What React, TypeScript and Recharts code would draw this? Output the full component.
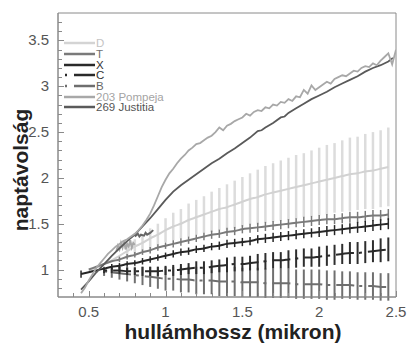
import { LineChart, Line, XAxis, YAxis, ErrorBar, Legend, Label, ReferenceArea } from 'recharts'

const FONT = '"Liberation Sans", Arial, Helvetica, sans-serif'

// wavelength grid of the model curves (micron)
const modelX = [
  0.45, 0.5, 0.55, 0.6, 0.65, 0.7, 0.75, 0.8, 0.85, 0.9, 0.95, 1.0, 1.05, 1.1, 1.15, 1.2, 1.25, 1.3, 1.35, 1.4, 1.45,
  1.5, 1.55, 1.6, 1.65, 1.7, 1.75, 1.8, 1.85, 1.9, 1.95, 2.0, 2.05, 2.1, 2.15, 2.2, 2.25, 2.3, 2.35, 2.4, 2.45,
]

const dMean = [
  null, 0.98, 1.02, 1.06, 1.1, 1.15, 1.2, 1.25, 1.29, 1.34, 1.38, 1.43, 1.47, 1.5, 1.54, 1.57, 1.6, 1.63, 1.66, 1.68,
  1.71, 1.74, 1.77, 1.79, 1.82, 1.84, 1.86, 1.88, 1.9, 1.92, 1.94, 1.96, 1.98, 2.0, 2.02, 2.04, 2.05, 2.07, 2.08,
  2.1, 2.12,
]
const dErr = [
  null, null, null, null, null, null, 0.06, 0.08, 0.09, 0.11, 0.12, 0.13, 0.15, 0.16, 0.18, 0.19, 0.2, 0.22, 0.23,
  0.25, 0.26, 0.27, 0.28, 0.3, 0.31, 0.32, 0.33, 0.34, 0.35, 0.35, 0.36, 0.37, 0.38, 0.38, 0.39, 0.4, 0.4, 0.41, 0.42,
  0.42, 0.43,
]

const tMean = [
  null, 1.0, 1.03, 1.06, 1.09, 1.11, 1.14, 1.16, 1.19, 1.21, 1.24, 1.26, 1.28, 1.3, 1.32, 1.34, 1.36, 1.38, 1.39,
  1.41, 1.42, 1.44, 1.45, 1.46, 1.47, 1.48, 1.49, 1.5, 1.51, 1.52, 1.53, 1.54, 1.55, 1.55, 1.56, 1.57, 1.57, 1.58,
  1.59, 1.59, 1.6,
]
const tErr = [
  null, null, null, null, null, 0.03, 0.03, 0.03, 0.03, 0.035, 0.035, 0.035, 0.04, 0.04, 0.04, 0.04, 0.04, 0.045,
  0.045, 0.045, 0.045, 0.045, 0.05, 0.05, 0.05, 0.05, 0.05, 0.05, 0.05, 0.055, 0.055, 0.055, 0.055, 0.055, 0.055,
  0.06, 0.06, 0.06, 0.06, 0.06, 0.06,
]

const xMean = [
  0.95, 0.97, 0.99, 1.01, 1.03, 1.04, 1.06, 1.07, 1.09, 1.11, 1.13, 1.15, 1.17, 1.19, 1.2, 1.22, 1.23, 1.25, 1.26,
  1.28, 1.29, 1.3, 1.31, 1.33, 1.34, 1.35, 1.36, 1.37, 1.38, 1.39, 1.4, 1.41, 1.42, 1.43, 1.44, 1.45, 1.46, 1.47,
  1.48, 1.49, 1.5,
]
const xErr = [
  0.04, null, null, null, 0.03, 0.03, 0.03, 0.03, 0.035, 0.035, 0.035, 0.035, 0.04, 0.04, 0.04, 0.04, 0.04, 0.04,
  0.045, 0.045, 0.045, 0.045, 0.045, 0.045, 0.05, 0.05, 0.05, 0.05, 0.05, 0.05, 0.05, 0.055, 0.055, 0.055, 0.055,
  0.055, 0.06, 0.06, 0.06, 0.06, 0.06,
]

const cMean = [
  null, null, null, 0.99, 0.99, 0.99, 0.98, 0.98, 0.98, 0.98, 0.98, 0.99, 0.99, 1.0, 1.01, 1.02, 1.02, 1.03, 1.04,
  1.05, 1.06, 1.06, 1.07, 1.08, 1.09, 1.1, 1.1, 1.11, 1.12, 1.13, 1.13, 1.14, 1.15, 1.16, 1.17, 1.18, 1.18, 1.19,
  1.2, 1.21, 1.22,
]
const cErr = [
  null, null, null, 0.03, 0.03, 0.04, 0.04, 0.04, 0.05, 0.05, 0.05, 0.05, 0.06, 0.06, 0.06, 0.07, 0.07, 0.07, 0.07,
  0.08, 0.08, 0.08, 0.08, 0.09, 0.09, 0.09, 0.09, 0.1, 0.1, 0.1, 0.1, 0.11, 0.11, 0.11, 0.11, 0.12, 0.12, 0.12, 0.12,
  0.13, 0.13,
]

const bMean = [
  null, null, null, 0.98, 0.97, 0.96, 0.95, 0.94, 0.93, 0.92, 0.91, 0.9, 0.9, 0.89, 0.89, 0.88, 0.88, 0.88, 0.87,
  0.87, 0.87, 0.86, 0.86, 0.86, 0.85, 0.85, 0.85, 0.85, 0.84, 0.84, 0.84, 0.84, 0.83, 0.83, 0.83, 0.83, 0.82, 0.82,
  0.82, 0.81, 0.81,
]
const bErr = [
  null, null, null, 0.05, 0.06, 0.07, 0.08, 0.09, 0.1, 0.11, 0.12, 0.13, 0.13, 0.14, 0.14, 0.15, 0.15, 0.15, 0.16,
  0.16, 0.16, 0.16, 0.16, 0.16, 0.16, 0.16, 0.16, 0.16, 0.16, 0.16, 0.16, 0.16, 0.16, 0.16, 0.15, 0.15, 0.15, 0.15,
  0.15, 0.15, 0.15,
]

// measured spectra [wavelength, reflectance]
const pompeja = [
  [0.45, 0.74], [0.475, 0.8], [0.5, 0.88], [0.525, 0.95], [0.55, 1.02], [0.575, 1.07], [0.6, 1.12], [0.625, 1.17],
  [0.65, 1.21], [0.675, 1.25], [0.7, 1.28], [0.725, 1.31], [0.75, 1.33], [0.775, 1.36], [0.8, 1.39], [0.825, 1.43],
  [0.85, 1.48], [0.875, 1.54], [0.9, 1.61], [0.925, 1.7], [0.95, 1.8], [0.975, 1.9], [1.0, 1.98], [1.025, 2.05],
  [1.05, 2.1], [1.075, 2.16], [1.1, 2.21], [1.125, 2.25], [1.15, 2.3], [1.175, 2.33], [1.2, 2.37], [1.225, 2.38],
  [1.25, 2.41], [1.275, 2.44], [1.3, 2.46], [1.325, 2.5], [1.35, 2.55], [1.375, 2.52], [1.4, 2.57], [1.425, 2.59],
  [1.45, 2.62], [1.475, 2.64], [1.5, 2.66], [1.525, 2.7], [1.55, 2.68], [1.575, 2.72], [1.6, 2.74], [1.625, 2.73],
  [1.65, 2.77], [1.675, 2.76], [1.7, 2.8], [1.725, 2.79], [1.75, 2.83], [1.775, 2.82], [1.8, 2.86], [1.825, 2.84],
  [1.85, 2.89], [1.875, 2.88], [1.9, 2.96], [1.925, 2.92], [1.95, 3.01], [1.975, 2.96], [2.0, 2.99], [2.025, 3.02],
  [2.05, 3.05], [2.075, 3.03], [2.1, 3.08], [2.125, 3.1], [2.15, 3.12], [2.175, 3.11], [2.2, 3.14], [2.225, 3.17],
  [2.25, 3.16], [2.275, 3.2], [2.3, 3.22], [2.325, 3.21], [2.35, 3.25], [2.375, 3.23], [2.4, 3.28], [2.425, 3.32],
  [2.45, 3.36], [2.475, 3.24], [2.5, 3.4],
]
const justitia = [
  [0.45, 0.78], [0.5, 0.87], [0.55, 0.97], [0.6, 1.06], [0.65, 1.15], [0.7, 1.23], [0.75, 1.31], [0.8, 1.38],
  [0.85, 1.47], [0.9, 1.56], [0.95, 1.66], [1.0, 1.76], [1.05, 1.85], [1.1, 1.92], [1.15, 1.98], [1.2, 2.04],
  [1.25, 2.1], [1.3, 2.16], [1.35, 2.21], [1.4, 2.27], [1.45, 2.32], [1.5, 2.38], [1.55, 2.44], [1.6, 2.51],
  [1.625, 2.52], [1.65, 2.55], [1.7, 2.6], [1.75, 2.66], [1.775, 2.67], [1.8, 2.71], [1.85, 2.76], [1.9, 2.81],
  [1.95, 2.86], [2.0, 2.9], [2.05, 2.94], [2.1, 2.99], [2.15, 3.03], [2.2, 3.07], [2.25, 3.11], [2.3, 3.16],
  [2.35, 3.2], [2.4, 3.23], [2.45, 3.27], [2.48, 3.31],
]
// short visible-range spectra
const pompejaVis = [
  [0.68, 1.2], [0.69, 1.26], [0.7, 1.22], [0.71, 1.29], [0.72, 1.24], [0.73, 1.31], [0.74, 1.22], [0.75, 1.28],
  [0.76, 1.25], [0.77, 1.32], [0.78, 1.24], [0.79, 1.29], [0.8, 1.27],
]
const justitiaVis = [
  [0.8, 1.36], [0.82, 1.39], [0.83, 1.36], [0.84, 1.38], [0.86, 1.37], [0.87, 1.4], [0.88, 1.38], [0.9, 1.4],
  [0.92, 1.43],
]

const xTicks = [
  0.4, 0.5, 0.6, 0.7, 0.8, 0.9, 1.0, 1.1, 1.2, 1.3, 1.4, 1.5, 1.6, 1.7, 1.8, 1.9, 2.0, 2.1, 2.2, 2.3, 2.4, 2.5,
]
const xLabels = [0.5, 1, 1.5, 2, 2.5]
const yTicks = [
  0.8, 0.9, 1.0, 1.1, 1.2, 1.3, 1.4, 1.5, 1.6, 1.7, 1.8, 1.9, 2.0, 2.1, 2.2, 2.3, 2.4, 2.5, 2.6, 2.7, 2.8, 2.9, 3.0,
  3.1, 3.2, 3.3, 3.4, 3.5, 3.6, 3.7,
]
const yLabels = [1, 1.5, 2, 2.5, 3, 3.5]

const legendNames = ['D', 'T', 'X', 'C', 'B', '203 Pompeja', '269 Justitia']
const legendLine = ['#d4d4d4', '#7a7a7a', '#2a2a2a', '#2a2a2a', '#6e6e6e', '#a8a8a8', '#5a5a5a']
const legendText = ['#c4c4c4', '#707070', '#333333', '#333333', '#666666', '#a4a4a4', '#555555']
const legendDashed = [false, false, false, true, true, false, false]

const models = modelX.map((x, i) => ({
  x,
  d: dMean[i], dErr: dErr[i],
  t: tMean[i], tErr: tErr[i],
  xm: xMean[i], xErr: xErr[i],
  c: cMean[i], cErr: cErr[i],
  b: bMean[i], bErr: bErr[i],
}))
const toXY = (arr: number[][]) => arr.map(([x, y]) => ({ x, y }))

const AXIS = '#8a8a8a'
const isMajor = (v: number, list: number[]) => list.some((l) => Math.abs(l - v) < 1e-6)

const xTick = (side: 'bottom' | 'top') => (p: any) => {
  const v = p.payload.value
  const major = isMajor(v, xLabels)
  const len = major ? 6 : 4
  const dir = side === 'top' ? 1 : -1
  const x = Math.round(p.x) + 0.5
  return (
    <g>
      <line x1={x} y1={p.y} x2={x} y2={p.y + dir * len} stroke={AXIS} strokeWidth={1} />
      {side === 'bottom' && major && (
        <text x={p.x} y={p.y + 20} textAnchor="middle" fontSize={15} fill="#555" fontFamily={FONT}>
          {String(v)}
        </text>
      )}
    </g>
  )
}

const yTick = (side: 'left' | 'right') => (p: any) => {
  const v = p.payload.value
  const major = isMajor(v, yLabels)
  const len = major ? 6 : 4
  const dir = side === 'left' ? 1 : -1
  const y = Math.round(p.y) + 0.5
  return (
    <g>
      <line x1={p.x} y1={y} x2={p.x + dir * len} y2={y} stroke={AXIS} strokeWidth={1} />
      {side === 'left' && major && (
        <text x={p.x - 9} y={p.y + 5} textAnchor="end" fontSize={15} fill="#555" fontFamily={FONT}>
          {String(v)}
        </text>
      )}
    </g>
  )
}

function renderLegend() {
  return (
    <div style={{ fontFamily: FONT, fontSize: 11.5 }}>
      {legendNames.map((name, i) => (
        <div key={name} style={{ display: 'flex', alignItems: 'center', height: 10.7 }}>
          <svg width={31} height={6} style={{ display: 'block' }}>
            {legendDashed[i] ? (
              <>
                <line x1={1} y1={3} x2={3} y2={3} stroke={legendLine[i]} strokeWidth={2.5} />
                <line x1={10} y1={3} x2={31} y2={3} stroke={legendLine[i]} strokeWidth={2.5} />
              </>
            ) : (
              <line x1={0} y1={3} x2={31} y2={3} stroke={legendLine[i]} strokeWidth={2.5} />
            )}
          </svg>
          <span style={{ color: legendText[i], marginLeft: 1, lineHeight: '10px' }}>{name}</span>
        </div>
      ))}
    </div>
  )
}

const axisLine = { stroke: AXIS, strokeWidth: 1 }

export default function App() {
  return (
    <div style={{ position: 'absolute', left: 0, top: 0, width: 408, height: 344, background: '#fff' }}>
      <LineChart width={408} height={344} margin={{ top: 13, right: 12, bottom: 0, left: 0 }} style={{ fontFamily: FONT }}>
        <XAxis
          xAxisId="b"
          type="number"
          dataKey="x"
          domain={[0.3, 2.5]}
          allowDataOverflow
          ticks={xTicks}
          interval={0}
          tickSize={0}
          tickMargin={0}
          height={47}
          axisLine={axisLine}
          tick={xTick('bottom')}
        >
          <Label
            value="hullámhossz (mikron)"
            position="insideBottom"
            offset={5}
            dx={6}
            style={{ fontSize: 21, fontWeight: 700, fill: '#222', fontFamily: FONT }}
          />
        </XAxis>
        <XAxis
          xAxisId="t"
          orientation="top"
          type="number"
          dataKey="x"
          domain={[0.3, 2.5]}
          allowDataOverflow
          ticks={xTicks}
          interval={0}
          tickSize={0}
          tickMargin={0}
          height={0}
          axisLine={axisLine}
          tick={xTick('top')}
        />
        <YAxis
          yAxisId="l"
          type="number"
          domain={[0.7, 3.8]}
          allowDataOverflow
          ticks={yTicks}
          interval={0}
          tickSize={0}
          tickMargin={0}
          width={58}
          axisLine={axisLine}
          tick={yTick('left')}
        >
          <Label
            content={() => (
              <text
                x={28}
                y={170}
                transform="rotate(-90 28 170)"
                textAnchor="middle"
                fontSize={21}
                fontWeight={700}
                fill="#222"
                fontFamily={FONT}
              >
                naptávolság
              </text>
            )}
          />
        </YAxis>
        <YAxis
          yAxisId="r"
          orientation="right"
          type="number"
          domain={[0.7, 3.8]}
          allowDataOverflow
          ticks={yTicks}
          interval={0}
          tickSize={0}
          tickMargin={0}
          width={0}
          axisLine={axisLine}
          tick={yTick('right')}
        />

        <Legend
          layout="vertical"
          align="center"
          verticalAlign="middle"
          wrapperStyle={{ left: 64, top: 38, width: 'auto' }}
          content={renderLegend}
        />

        <ReferenceArea xAxisId="b" yAxisId="l" x1={0.3} x2={2.5} y1={0.7} y2={3.8} fill="none" stroke={AXIS}
          strokeWidth={1} ifOverflow="visible" />

        {/* registers the top / right frame axes */}
        <Line xAxisId="t" yAxisId="r" data={models} dataKey="t" stroke="none" dot={false} activeDot={false}
          legendType="none" isAnimationActive={false} />

        <Line xAxisId="b" yAxisId="l" data={models} dataKey="d" type="monotone" stroke="#d2d2d2" strokeWidth={2}
          dot={false} activeDot={false} isAnimationActive={false}>
          <ErrorBar dataKey="dErr" width={0} stroke="#dcdcdc" strokeWidth={2.5} isAnimationActive={false} />
        </Line>
        <Line xAxisId="b" yAxisId="l" data={models} dataKey="b" type="monotone" stroke="#6e6e6e" strokeWidth={2}
          strokeDasharray="3 6 18 5" dot={false} activeDot={false} isAnimationActive={false}>
          <ErrorBar dataKey="bErr" width={0} stroke="#707070" strokeWidth={2} isAnimationActive={false} />
        </Line>
        <Line xAxisId="b" yAxisId="l" data={models} dataKey="c" type="monotone" stroke="#2a2a2a" strokeWidth={2}
          strokeDasharray="3 6 18 5" dot={false} activeDot={false} isAnimationActive={false}>
          <ErrorBar dataKey="cErr" width={0} stroke="#2e2e2e" strokeWidth={2} isAnimationActive={false} />
        </Line>
        <Line xAxisId="b" yAxisId="l" data={models} dataKey="t" type="monotone" stroke="#7a7a7a" strokeWidth={2}
          dot={false} activeDot={false} isAnimationActive={false}>
          <ErrorBar dataKey="tErr" width={0} stroke="#7a7a7a" strokeWidth={1.5} isAnimationActive={false} />
        </Line>
        <Line xAxisId="b" yAxisId="l" data={models} dataKey="xm" type="monotone" stroke="#262626" strokeWidth={2}
          dot={false} activeDot={false} isAnimationActive={false}>
          <ErrorBar dataKey="xErr" width={0} stroke="#262626" strokeWidth={1.5} isAnimationActive={false} />
        </Line>

        <Line xAxisId="b" yAxisId="l" data={toXY(pompejaVis)} dataKey="y" type="linear" stroke="#a8a8a8"
          strokeWidth={2} dot={false} activeDot={false} isAnimationActive={false} />
        <Line xAxisId="b" yAxisId="l" data={toXY(justitiaVis)} dataKey="y" type="linear" stroke="#666"
          strokeWidth={2} dot={false} activeDot={false} isAnimationActive={false} />
        <Line xAxisId="b" yAxisId="l" data={toXY(justitia)} dataKey="y" type="linear" stroke="#5a5a5a"
          strokeWidth={1.8} dot={false} activeDot={false} isAnimationActive={false} />
        <Line xAxisId="b" yAxisId="l" data={toXY(pompeja)} dataKey="y" type="linear" stroke="#a8a8a8"
          strokeWidth={1.8} dot={false} activeDot={false} isAnimationActive={false} />
      </LineChart>
    </div>
  )
}
